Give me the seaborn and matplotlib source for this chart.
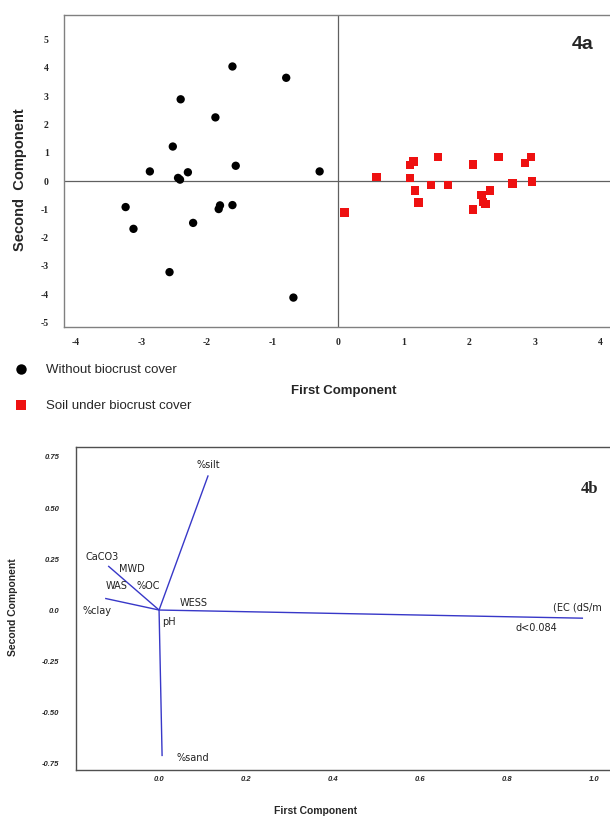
import numpy as np
import pandas as pd
import matplotlib
matplotlib.use("Agg")
import matplotlib.pyplot as plt
import seaborn as sns

# ---------------- data: panel 4a (PCA scores) ----------------
without_pc1 = [-1.61, -0.79, -2.40, -1.87, -2.52, -2.87, -1.56, -0.28, -2.44, -2.41,
               -2.29, -3.24, -3.12, -2.21, -1.82, -1.80, -1.61, -2.57, -0.68]
without_pc2 = [4.05, 3.65, 2.89, 2.25, 1.22, 0.34, 0.54, 0.34, 0.11, 0.05,
               0.31, -0.92, -1.69, -1.48, -0.99, -0.86, -0.85, -3.22, -4.12]
under_pc1 = [0.10, 0.59, 1.10, 1.15, 1.10, 1.18, 1.23, 1.53, 1.42, 1.68, 2.06,
             2.06, 2.19, 2.21, 2.25, 2.32, 2.45, 2.66, 2.85, 2.94, 2.96]
under_pc2 = [-1.11, 0.14, 0.56, 0.69, 0.11, -0.34, -0.76, 0.86, -0.13, -0.14, 0.59,
             -1.01, -0.49, -0.74, -0.81, -0.34, 0.84, -0.09, 0.64, 0.85, -0.02]
group_names = ["Without biocrust cover", "Soil under biocrust cover"]
top_xticks = [-4, -3, -2, -1, 0, 1, 2, 3, 4]
top_yticks = [-5, -4, -3, -2, -1, 0, 1, 2, 3, 4, 5]

# ---------------- data: panel 4b (loadings) ----------------
vec_names = ["%silt", "CaCO3", "%clay", "EC", "%sand"]
vec_pc1 = [0.113, -0.117, -0.124, 0.975, 0.007]
vec_pc2 = [0.660, 0.216, 0.057, -0.040, -0.716]
bot_xticks = [0.0, 0.2, 0.4, 0.6, 0.8, 1.0]
bot_xticklabels = ["0.0", "0.2", "0.4", "0.6", "0.8", "1.0"]
bot_yticks = [-0.75, -0.50, -0.25, 0.0, 0.25, 0.50, 0.75]
bot_yticklabels = ["-0.75", "-0.50", "-0.25", "0.0", "0.25", "0.50", "0.75"]

# variable labels (text, x, y in loading coordinates)
var_labels = ["%silt", "CaCO3", "MWD", "WAS", "%OC", "%clay", "WESS", "pH",
              "%sand", "(EC (dS/m", "d<0.084"]
var_label_x = [0.113, -0.131, -0.062, -0.097, -0.025, -0.143, 0.080, 0.023,
               0.078, 0.961, 0.867]
var_label_y = [0.711, 0.260, 0.201, 0.118, 0.118, -0.005, 0.034, -0.059,
               -0.725, 0.010, -0.088]

df = pd.DataFrame({
    "PC1": without_pc1 + under_pc1,
    "PC2": without_pc2 + under_pc2,
    "group": [group_names[0]] * len(without_pc1) + [group_names[1]] * len(under_pc1),
})

sns.set_style("white")
plt.rcParams["font.family"] = ["Liberation Sans", "DejaVu Sans"]

W, H = 610, 816
fig = plt.figure(figsize=(W / 100, H / 100), dpi=100)

def fx(px):
    return px / W

def fy(py):
    return 1 - py / H

# ---------------- top panel ----------------
ax1 = fig.add_axes([fx(64), fy(327), fx(610) - fx(64), fy(15) - fy(327)])
ax1.axhline(0, color="#606060", lw=0.9, zorder=1)
ax1.axvline(0, color="#606060", lw=0.9, zorder=1)
sns.scatterplot(data=df, x="PC1", y="PC2", hue="group", style="group",
                palette={group_names[0]: "black", group_names[1]: "#ee1111"},
                markers={group_names[0]: "o", group_names[1]: "s"},
                s=36, linewidth=0, edgecolor="none", ax=ax1, zorder=3)
handles, labels = ax1.get_legend_handles_labels()
ax1.get_legend().remove()
ax1.set_xlim(-4.18, 4.15)
ax1.set_ylim(-5.16, 5.87)
ax1.set_xticks(top_xticks)
ax1.set_yticks(top_yticks)
ax1.set_xticklabels([str(t) for t in top_xticks], family="Liberation Serif",
                    fontweight="bold", fontsize=7)
ax1.set_yticklabels([str(t) for t in top_yticks], family="Liberation Serif",
                    fontweight="bold", fontsize=7)
ax1.tick_params(axis="both", direction="out", length=3, width=0.8, color="#808080")
ax1.tick_params(axis="x", pad=5)
ax1.tick_params(axis="y", pad=8)
ax1.set_xlabel("")
ax1.set_ylabel("")
for side in ["left", "top", "bottom"]:
    ax1.spines[side].set_color("#808080")
    ax1.spines[side].set_linewidth(1.0)
ax1.spines["right"].set_visible(False)
ax1.text(0.95, 0.905, "4a", transform=ax1.transAxes, fontsize=14,
         fontweight="bold", ha="center", va="center")

fig.text(fx(20), fy(180), "Second  Component", rotation=90, ha="center",
         va="center", fontsize=10.5, fontweight="bold")
fig.text(fx(344), fy(391), "First Component", ha="center", va="center",
         fontsize=9.5, fontweight="bold")

fig.legend(handles, labels, loc="upper left", bbox_to_anchor=(fx(13), fy(364)),
           frameon=False, fontsize=9.5, handlelength=1.2, handletextpad=1.3,
           labelspacing=1.8, borderpad=0, borderaxespad=0, markerscale=1.25)

# ---------------- bottom panel ----------------
ax2 = fig.add_axes([fx(76), fy(770), fx(610) - fx(76), fy(447) - fy(770)])
blue = "#3838c8"
for name, x1, y1 in zip(vec_names, vec_pc1, vec_pc2):
    ax2.plot([0, x1], [0, y1], color=blue, lw=1.0, solid_capstyle="butt")
for txt, tx, ty in zip(var_labels, var_label_x, var_label_y):
    ax2.text(tx, ty, txt, family="DejaVu Sans", fontsize=7, ha="center",
             va="center", color="#222222")
ax2.set_xlim(-0.191, 1.037)
ax2.set_ylim(-0.784, 0.799)
ax2.set_xticks(bot_xticks)
ax2.set_xticklabels(bot_xticklabels, fontsize=5.5, fontweight="bold", style="italic")
ax2.set_yticks(bot_yticks)
ax2.set_yticklabels(bot_yticklabels, fontsize=5.5, fontweight="bold", style="italic")
ax2.tick_params(axis="x", direction="inout", length=5, width=0.8, pad=2, color="#404040")
ax2.tick_params(axis="y", direction="out", length=3, width=0.8, pad=9, color="#404040")
for side in ["left", "top", "bottom"]:
    ax2.spines[side].set_color("#505050")
    ax2.spines[side].set_linewidth(1.0)
ax2.spines["right"].set_visible(False)
ax2.text(0.962, 0.87, "4b", transform=ax2.transAxes, family="Liberation Serif",
         fontsize=12, fontweight="bold", ha="center", va="center")

fig.text(fx(13), fy(607), "Second Component", rotation=90, ha="center",
         va="center", fontsize=7.5, fontweight="bold")
fig.text(fx(316), fy(811), "First Component", ha="center", va="center",
         fontsize=7.5, fontweight="bold")

fig.savefig("out.png", dpi=100)
